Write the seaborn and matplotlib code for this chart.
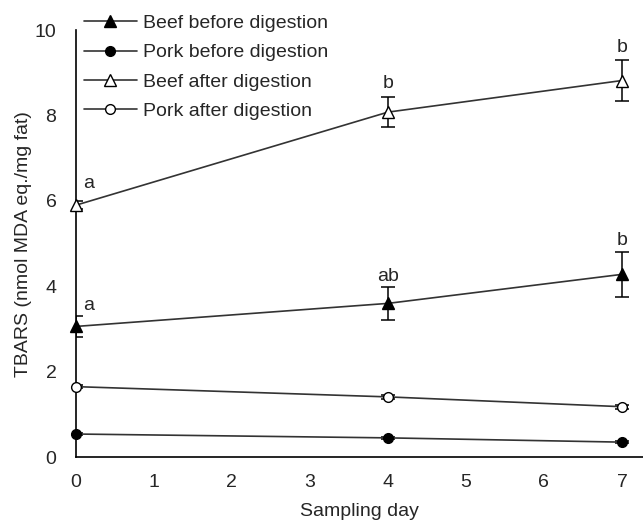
import matplotlib
matplotlib.use("Agg")
import matplotlib.pyplot as plt
import seaborn as sns
import pandas as pd

days = [0, 4, 7]
series_names = ["Beef before digestion", "Pork before digestion",
                "Beef after digestion", "Pork after digestion"]
beef_before = [3.06, 3.60, 4.28]
beef_before_err = [0.25, 0.38, 0.53]
pork_before = [0.54, 0.45, 0.35]
pork_before_err = [0.03, 0.03, 0.03]
beef_after = [5.90, 8.08, 8.82]
beef_after_err = [0.10, 0.36, 0.48]
pork_after = [1.65, 1.41, 1.18]
pork_after_err = [0.04, 0.04, 0.05]
beef_after_letters = ["a", "b", "b"]
beef_before_letters = ["a", "ab", "b"]

sns.set_theme(style="white")
plt.rcParams['font.family'] = ['Liberation Sans', 'DejaVu Sans']

fig = plt.figure(figsize=(6.43, 5.2), dpi=100)
ax = fig.add_axes([0.118, 0.121, 0.882, 0.821])

vals = [beef_before, pork_before, beef_after, pork_after]
errs = [beef_before_err, pork_before_err, beef_after_err, pork_after_err]
markers = ["^", "o", "^", "o"]
faces = ["black", "black", "white", "white"]

rows = []
for name, v in zip(series_names, vals):
    for d, y in zip(days, v):
        rows.append({"day": d, "value": y, "series": name})
df = pd.DataFrame(rows)

for name, v, e, m, fc in zip(series_names, vals, errs, markers, faces):
    sub = df[df["series"] == name]
    ax.errorbar(days, v, yerr=e, fmt="none", ecolor="black", elinewidth=1.1,
                capsize=5, capthick=1.1, zorder=2, clip_on=True)
    sns.lineplot(data=sub, x="day", y="value", ax=ax, color="#333333",
                 linewidth=1.2, marker=m, markersize=9 if m == "^" else 7,
                 markerfacecolor=fc, markeredgecolor="black", markeredgewidth=1,
                 label=name, zorder=3, clip_on=False)

for d, y, e, t in zip(days, beef_after, beef_after_err, beef_after_letters):
    if d == 0:
        ax.text(d + 0.16, y + 0.32, t, ha="center", va="bottom", fontsize=14)
    else:
        ax.text(d, y + e + 0.1, t, ha="center", va="bottom", fontsize=14)
for d, y, e, t in zip(days, beef_before, beef_before_err, beef_before_letters):
    if d == 0:
        ax.text(d + 0.16, y + 0.3, t, ha="center", va="bottom", fontsize=14)
    else:
        ax.text(d, y + e + 0.06, t, ha="center", va="bottom", fontsize=14)

ax.set_xlim(0, 7.27)
ax.set_ylim(0, 10)
ax.set_xticks(range(0, 8))
ax.set_yticks([0, 2, 4, 6, 8, 10])
ax.tick_params(axis="x", labelsize=14, length=0, pad=12)
ax.tick_params(axis="y", labelsize=14, length=0, pad=14)
ax.set_xlabel("Sampling day", fontsize=14, labelpad=9)
ax.set_ylabel("TBARS (nmol MDA eq./mg fat)", fontsize=14, labelpad=2)
for s in ["top", "right"]:
    ax.spines[s].set_visible(False)
for s in ["left", "bottom"]:
    ax.spines[s].set_color("black")
    ax.spines[s].set_linewidth(1.2)

leg = ax.legend(loc="upper left", bbox_to_anchor=(0.001, 1.055), frameon=False,
                fontsize=14, handlelength=2.7, labelspacing=0.6, handletextpad=0.3,
                borderaxespad=0)
fig.savefig("out.png", dpi=100)
